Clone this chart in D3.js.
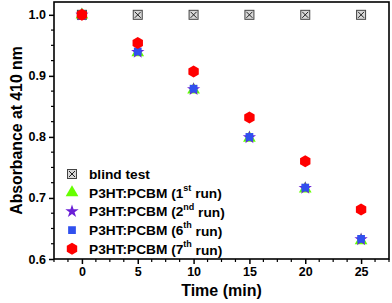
<!DOCTYPE html>
<html>
<head>
<meta charset="utf-8">
<script src="https://cdn.jsdelivr.net/npm/d3@7"></script>
<style>
  body { margin: 0; background: #fff; }
  svg text { font-family: Arial, "Liberation Sans", sans-serif; font-weight: bold; }
</style>
</head>
<body>
<div id="chart"></div>
<script>
// time points (min)
const times = [0, 5, 10, 15, 20, 25];

// absorbance at 410 nm
const blindTest = [1.0, 1.0, 1.0, 1.0, 1.0, 1.0];
const run1 = [1.0, 0.938, 0.877, 0.798, 0.715, 0.630];
const run2 = [1.0, 0.939, 0.878, 0.799, 0.716, 0.632];
const run6 = [1.0, 0.940, 0.879, 0.800, 0.717, 0.633];
const run7 = [1.0, 0.954, 0.907, 0.832, 0.760, 0.681];

const xTicks = [0, 5, 10, 15, 20, 25];
const yTicks = [0.6, 0.7, 0.8, 0.9, 1.0];

const series = [
    { name: "blind test", sup: null, values: blindTest, shape: "box" },
    { name: "P3HT:PCBM (1", sup: "st", values: run1, shape: "triangle", color: "#66ff00" },
    { name: "P3HT:PCBM (2", sup: "nd", values: run2, shape: "star", color: "#6a1fd6" },
    { name: "P3HT:PCBM (6", sup: "th", values: run6, shape: "square", color: "#3050ee" },
    { name: "P3HT:PCBM (7", sup: "th", values: run7, shape: "hexagon", color: "#ff0000" }
];

const width = 392, height = 303;
const margin = { top: 2, right: 3, bottom: 44, left: 54 };

const svg = d3.select("#chart").append("svg")
    .attr("width", width)
    .attr("height", height);

const x = d3.scaleLinear().domain([-2.5, 27.5]).range([margin.left, width - margin.right]);
const y = d3.scaleLinear().domain([0.6, 1.021]).range([height - margin.bottom, margin.top]);

// minor ticks
const xMinor = d3.range(-2.5, 27.51, 1.25).filter(v => !xTicks.includes(v));
const yMinor = d3.range(0.6, 1.021, 0.025).filter(v => !yTicks.some(t => Math.abs(t - v) < 1e-6));

svg.append("g")
    .selectAll("line")
    .data(xMinor)
    .join("line")
    .attr("x1", d => x(d)).attr("x2", d => x(d))
    .attr("y1", y(0.6)).attr("y2", y(0.6) + 3)
    .attr("stroke", "#000").attr("stroke-width", 1.2);

svg.append("g")
    .selectAll("line")
    .data(yMinor)
    .join("line")
    .attr("x1", x(-2.5) - 3).attr("x2", x(-2.5))
    .attr("y1", d => y(d)).attr("y2", d => y(d))
    .attr("stroke", "#000").attr("stroke-width", 1.2);

// axes
const xAxis = svg.append("g")
    .attr("transform", `translate(0,${y(0.6)})`)
    .call(d3.axisBottom(x).tickValues(xTicks).tickSize(5).tickPadding(3).tickFormat(d3.format("d")));
xAxis.select(".domain").remove();
xAxis.selectAll("line").attr("stroke-width", 1.5);
xAxis.selectAll("text").attr("font-size", 12.5).attr("font-weight", "bold").attr("fill", "#000")
    .style("font-family", "Arial, 'Liberation Sans', sans-serif");

const yAxis = svg.append("g")
    .attr("transform", `translate(${x(-2.5)},0)`)
    .call(d3.axisLeft(y).tickValues(yTicks).tickSize(5).tickPadding(3).tickFormat(d3.format(".1f")));
yAxis.select(".domain").remove();
yAxis.selectAll("line").attr("stroke-width", 1.5);
yAxis.selectAll("text").attr("font-size", 12.5).attr("font-weight", "bold").attr("fill", "#000")
    .style("font-family", "Arial, 'Liberation Sans', sans-serif");

// frame
svg.append("rect")
    .attr("x", x(-2.5))
    .attr("y", y(1.021))
    .attr("width", x(27.5) - x(-2.5))
    .attr("height", y(0.6) - y(1.021))
    .attr("fill", "none")
    .attr("stroke", "#000")
    .attr("stroke-width", 1.6);

// marker drawing
function drawMarker(g, shape, color) {
    if (shape === "box") {
        g.append("rect").attr("x", -4.5).attr("y", -4.5).attr("width", 9).attr("height", 9)
            .attr("fill", "#d8d8d8").attr("stroke", "#444").attr("stroke-width", 1);
        g.append("path").attr("d", "M-3,-3L3,3M3,-3L-3,3")
            .attr("stroke", "#222").attr("stroke-width", 1);
    } else if (shape === "triangle") {
        g.append("path").attr("d", d3.symbol(d3.symbolTriangle, 70)()).attr("fill", color);
    } else if (shape === "star") {
        g.append("path").attr("d", d3.symbol(d3.symbolStar, 55)()).attr("fill", color);
    } else if (shape === "square") {
        g.append("path").attr("d", d3.symbol(d3.symbolSquare, 60)()).attr("fill", color);
    } else if (shape === "hexagon") {
        const r = 6;
        const pts = d3.range(6).map(i => {
            const a = Math.PI / 6 + i * Math.PI / 3;
            return [r * Math.cos(a), r * Math.sin(a)];
        });
        g.append("path").attr("d", "M" + pts.join("L") + "Z").attr("fill", color);
    }
}

// data points
series.forEach(s => {
    svg.append("g")
        .selectAll("g")
        .data(times.map((t, i) => ({ t, v: s.values[i] })))
        .join("g")
        .attr("transform", d => `translate(${x(d.t)},${y(d.v)})`)
        .each(function () { drawMarker(d3.select(this), s.shape, s.color); });
});

// legend
const legend = svg.append("g");
series.forEach((s, i) => {
    const ly = 174 + i * 18.7;
    const g = legend.append("g").attr("transform", `translate(72,${ly})`);
    drawMarker(g, s.shape, s.color);
    const txt = legend.append("text")
        .attr("x", 89)
        .attr("y", ly)
        .attr("dy", "0.36em")
        .attr("font-size", 13.7)
        .attr("fill", "#000");
    txt.append("tspan").text(s.name);
    if (s.sup) {
        txt.append("tspan").attr("font-size", 9).attr("dy", "-0.75em").text(s.sup);
        txt.append("tspan").attr("dy", "0.55em").text(" run)");
    }
});

// axis titles
svg.append("text")
    .attr("x", (x(-2.5) + x(27.5)) / 2)
    .attr("y", 296)
    .attr("text-anchor", "middle")
    .attr("font-size", 16)
    .attr("fill", "#000")
    .text("Time (min)");

svg.append("text")
    .attr("transform", `translate(22,${(y(0.6) + y(1.021)) / 2}) rotate(-90)`)
    .attr("text-anchor", "middle")
    .attr("font-size", 15.8)
    .attr("fill", "#000")
    .text("Absorbance at 410 nm");
</script>
</body>
</html>
